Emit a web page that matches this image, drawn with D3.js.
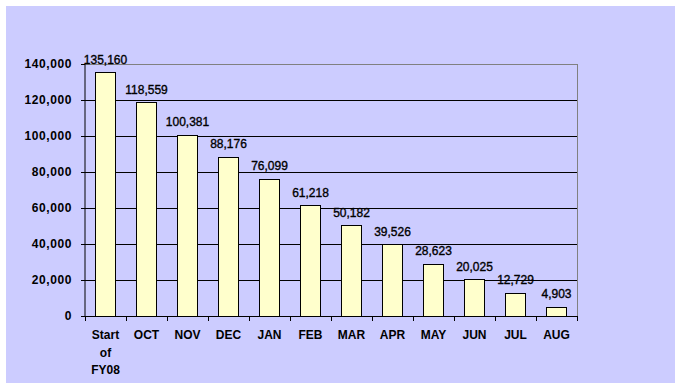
<!DOCTYPE html>
<html><head><meta charset="utf-8">
<script src="https://cdn.jsdelivr.net/npm/d3@7"></script>
<style>body{margin:0;background:#fff;} text{font-family:"Liberation Sans",Arial,sans-serif;}</style>
</head><body>
<svg id="c" width="684" height="390"></svg>
<script>
const categories = ["Start of FY08","OCT","NOV","DEC","JAN","FEB","MAR","APR","MAY","JUN","JUL","AUG"];
const values = [135160,118559,100381,88176,76099,61218,50182,39526,28623,20025,12729,4903];
const yTicks = [0,20000,40000,60000,80000,100000,120000,140000];

(function(){
const svg = d3.select("#c");
svg.append("rect").attr("x",6).attr("y",6).attr("width",669).attr("height",377).attr("fill","#CCCCFF");

const pL=85,pR=577,pT=64,pB=316;
const x = d3.scaleBand().domain(categories).range([pL,pR]).paddingInner(0.5).paddingOuter(0.25);
const y = d3.scaleLinear().domain([0,140000]).range([pB,pT]);

svg.append("g").selectAll("line").data(yTicks.filter(d=>d>0&&d<140000)).join("line")
  .attr("x1",pL).attr("x2",pR).attr("y1",d=>y(d)).attr("y2",d=>y(d))
  .attr("stroke","#000").attr("stroke-width",1).attr("shape-rendering","crispEdges");
svg.append("path").attr("d",`M${pL},${pT}H${pR}V${pB}`).attr("fill","none")
  .attr("stroke","#808080").attr("shape-rendering","crispEdges");

svg.append("g").selectAll("rect").data(values).join("rect")
  .attr("x",(d,i)=>x(categories[i])).attr("width",x.bandwidth())
  .attr("y",d=>y(d)).attr("height",d=>y(0)-y(d))
  .attr("fill","#FFFFCC").attr("stroke","#000").attr("shape-rendering","crispEdges");

svg.append("g").selectAll("text").data(values).join("text")
  .attr("x",(d,i)=>x(categories[i])+x.bandwidth()/2).attr("y",d=>y(d)-9)
  .attr("text-anchor","middle").attr("font-size",12).attr("fill","#000")
  .attr("stroke","#000").attr("stroke-width",0.35)
  .text(d=>d3.format(",")(d));

const yAxis = d3.axisLeft(y).tickValues(yTicks).tickSize(4).tickPadding(9).tickFormat(d3.format(","));
const ya = svg.append("g").attr("transform",`translate(${pL},0)`).call(yAxis);
ya.select(".domain").attr("d",`M0,${pT}V${pB}`).attr("stroke","#000");
ya.selectAll("line").attr("stroke","#000");
ya.selectAll("text").attr("font-size",12).attr("font-weight","bold").attr("font-family","Liberation Sans, Arial").attr("letter-spacing","0.6px");

const bounds = d3.range(categories.length+1).map(i=>pL+i*(pR-pL)/categories.length);
svg.append("line").attr("x1",pL).attr("x2",pR).attr("y1",pB).attr("y2",pB).attr("stroke","#000").attr("shape-rendering","crispEdges");
svg.append("g").selectAll("line").data(bounds).join("line")
  .attr("x1",d=>d).attr("x2",d=>d).attr("y1",pB).attr("y2",pB+5)
  .attr("stroke","#000").attr("shape-rendering","crispEdges");

const lines = {"Start of FY08":["Start","of","FY08"]};
const xl = svg.append("g");
categories.forEach(c=>{
  const parts = lines[c]||[c];
  const cx = x(c)+x.bandwidth()/2;
  const t = xl.append("text").attr("text-anchor","middle").attr("font-size",12).attr("font-weight","bold")
    .attr("x",cx).attr("y",339);
  parts.forEach((p,i)=>t.append("tspan").attr("x",cx).attr("dy",i?17.5:0).text(p));
});
})();
</script>
</body></html>
